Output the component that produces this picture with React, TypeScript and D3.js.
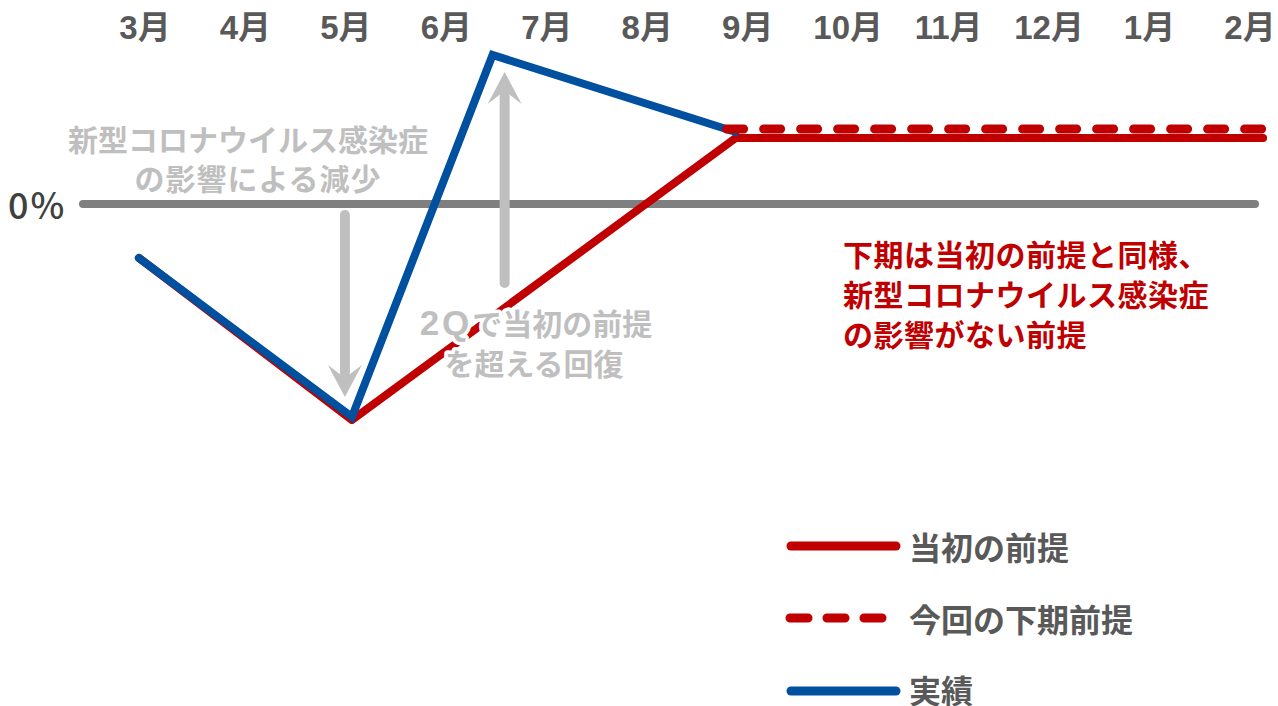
import React from "react";
import * as d3 from "d3";

const months = ["3月", "4月", "5月", "6月", "7月", "8月", "9月", "10月", "11月", "12月", "1月", "2月"];

// month index (0 = 3月) and value (percentage points vs. 0%)
const initialMonth = [-0.06, 2.06, 5.88, 11.13];
const initialValue = [-5.4, -21.6, 6.6, 6.6];

const actualMonth = [-0.06, 2.06, 3.46, 5.88];
const actualValue = [-5.4, -21.3, 14.9, 7.2];

const revisedMonth = [5.79, 11.16];
const revisedValue = [7.5, 7.5];

const downArrowMonth = 1.99;
const downArrowFrom = -1.1;
const downArrowTo = -19.3;
const upArrowMonth = 3.58;
const upArrowFrom = -7.9;
const upArrowTo = 13.2;

const noteLeft = ["新型コロナウイルス感染症", "の影響による減少"];
const noteMidHead = "2Q";
const noteMid = ["で当初の前提", "を超える回復"];
const noteRight = ["下期は当初の前提と同様、", "新型コロナウイルス感染症", "の影響がない前提"];
const legendLabels = ["当初の前提", "今回の下期前提", "実績"];

const RED = "#c00000";
const BLUE = "#0050a0";
const GREY_LINE = "#7f7f7f";
const GREY_NOTE = "#bfbfbf";
const TEXT = "#595959";
const JP = "'Noto Sans CJK JP', 'Noto Sans', sans-serif";

type P = { m: number; v: number };
const zip = (ms: number[], vs: number[]): P[] => ms.map((m, i) => ({ m, v: vs[i] }));

export default function App() {
  const W = 1278;
  const H = 706;
  const x = d3.scaleLinear().domain([0, 11]).range([145, 1250]);
  const y = d3.scaleLinear().domain([-25, 15]).range([454, 54]);
  const line = d3
    .line<P>()
    .x((d) => x(d.m))
    .y((d) => y(d.v));

  const arrow = (m: number, from: number, to: number) => {
    const cx = x(m);
    const y0 = y(from);
    const tip = y(to);
    const dir = tip > y0 ? 1 : -1;
    const barbY = tip - dir * 32;
    const notchY = tip - dir * 19;
    const shaftEnd = tip - dir * 24;
    return (
      <g>
        <line x1={cx} y1={y0} x2={cx} y2={shaftEnd} stroke={GREY_NOTE} strokeWidth={10} strokeLinecap="round" />
        <path
          d={`M${cx},${tip} L${cx - 17},${barbY} L${cx},${notchY} L${cx + 17},${barbY} Z`}
          fill={GREY_NOTE}
        />
      </g>
    );
  };

  const halo = {
    stroke: "#ffffff",
    strokeWidth: 7,
    paintOrder: "stroke" as const,
    strokeLinejoin: "round" as const,
  };

  return (
    <svg
      width={W}
      height={H}
      style={{ position: "absolute", left: 0, top: 0, background: "#ffffff" }}
      fontFamily={JP}
    >
      <rect width={W} height={H} fill="#ffffff" />

      {/* zero line */}
      <line x1={83} x2={1255} y1={y(0)} y2={y(0)} stroke={GREY_LINE} strokeWidth={8} strokeLinecap="round" />

      {/* arrows */}
      {arrow(downArrowMonth, downArrowFrom, downArrowTo)}
      {arrow(upArrowMonth, upArrowFrom, upArrowTo)}

      {/* series */}
      <path
        d={line(zip(initialMonth, initialValue)) || ""}
        fill="none"
        stroke={RED}
        strokeWidth={8}
        strokeLinejoin="round"
        strokeLinecap="round"
      />
      <path
        d={line(zip(actualMonth, actualValue)) || ""}
        fill="none"
        stroke={BLUE}
        strokeWidth={8}
        strokeLinejoin="miter"
        strokeLinecap="round"
      />
      <path
        d={line(zip(revisedMonth, revisedValue)) || ""}
        fill="none"
        stroke={RED}
        strokeWidth={9}
        strokeDasharray="17 20"
        strokeLinecap="round"
      />

      {/* month labels */}
      {months.map((m, i) => (
        <text
          key={m}
          x={x(i)}
          y={39}
          textAnchor="middle"
          fontSize={33}
          fontWeight={700}
          fill={TEXT}
          fontFamily={"'Liberation Sans', 'Noto Sans CJK JP', sans-serif"}
        >
          {m}
        </text>
      ))}

      {/* 0% label */}
      <text x={8} y={219} fontSize={36} fontWeight={500} fill="#404040" letterSpacing={2}>
        0%
      </text>

      {/* grey notes */}
      {noteLeft.map((t, i) => (
        <text
          key={t}
          x={i === 0 ? 248 : 258}
          y={151 + i * 39}
          textAnchor="middle"
          fontSize={30}
          fontWeight={700}
          fill={GREY_NOTE}
          letterSpacing={i === 0 ? 0 : 1}
          {...halo}
        >
          {t}
        </text>
      ))}
      {noteMid.map((t, i) => (
        <text
          key={t}
          x={i === 0 ? 536 : 534}
          y={335 + i * 40}
          textAnchor="middle"
          fontSize={30}
          fontWeight={700}
          fill={GREY_NOTE}
          {...halo}
        >
          {i === 0 ? (
            <tspan fontFamily="'Liberation Sans', sans-serif" fontSize={35} letterSpacing={3}>
              {noteMidHead}
            </tspan>
          ) : null}
          {t}
        </text>
      ))}

      {/* red note */}
      {noteRight.map((t, i) => (
        <text key={t + i} x={843} y={266 + i * 40} fontSize={30} fontWeight={700} fill={RED} letterSpacing={0.5}>
          {t}
        </text>
      ))}

      {/* legend */}
      <line x1={791} x2={896} y1={546} y2={546} stroke={RED} strokeWidth={9} strokeLinecap="round" />
      <line
        x1={790}
        x2={890}
        y1={618}
        y2={618}
        stroke={RED}
        strokeWidth={9}
        strokeDasharray="18 19"
        strokeLinecap="round"
      />
      <line x1={791} x2={896} y1={691} y2={691} stroke={BLUE} strokeWidth={9} strokeLinecap="round" />
      {legendLabels.map((t, i) => (
        <text key={t} x={909} y={[560, 632, 703][i]} fontSize={32} fontWeight={700} fill={TEXT}>
          {t}
        </text>
      ))}
    </svg>
  );
}
